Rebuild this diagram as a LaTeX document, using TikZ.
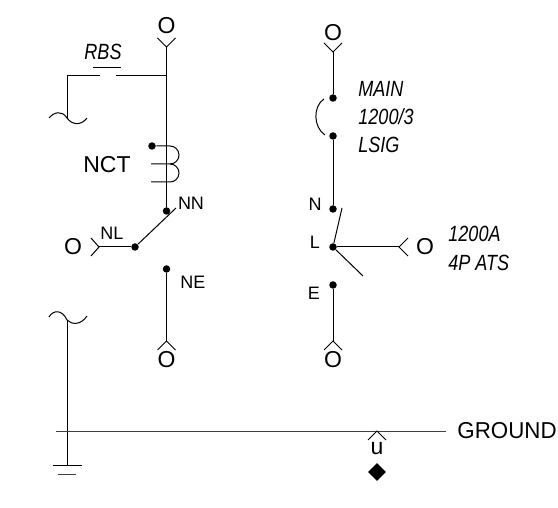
\documentclass[tikz,border=0pt]{standalone}
\usepackage{amsmath}
\usepackage{fontspec}
\setmainfont{Liberation Sans}
\usetikzlibrary{arrows,positioning,shapes.geometric}

\begin{document}
\begin{tikzpicture}[
x=1pt,y=-1pt,
line width=1pt,
big/.style={font=\fontsize{23}{25}\selectfont,inner sep=0pt},
small/.style={font=\fontsize{18}{20}\selectfont,inner sep=0pt},
note/.style={font=\fontsize{22}{24}\selectfont\itshape,xscale=0.82,inner sep=0pt,anchor=west},
dot/.style={circle,fill=black,inner sep=0pt,minimum size=7.5pt},
thinline/.style={line width=0.8pt,color=black!75}]
    \useasboundingbox (0,0) rectangle (558,508);

    % Left feeder
    \node[big] (otop) at (166.5,26) {O};
    \coordinate (ttop) at (166.5,47);
    \coordinate (rbsjoin) at (166.5,76);
    \node[dot] (nn) at (166.5,211) {};
    \draw (ttop) ++(-9,-9) -- (ttop) -- ++(9,-9);
    \draw (ttop) -- (nn);

    % RBS
    \node[note,anchor=center] (rbs) at (103,52) {RBS};
    \coordinate (rbsa) at (116,76);
    \coordinate (rbsb) at (100,76);
    \coordinate (rbsc) at (67,76);
    \coordinate (rbsd) at (67,118);
    \draw (rbsjoin) -- (rbsa);
    \draw (rbsb) -- (rbsc) -- (rbsd);
    \draw (93,68) -- (121,68);
    \draw (49,118) .. controls (54,112) and (62,110) .. (rbsd)
        .. controls (72,125) and (81,126) .. (87,118);

    % NCT
    \node[big] (nct) at (107,165) {NCT};
    \node[dot] (ctdot) at (152,146) {};
    \draw (ctdot) -- (170,146) arc (-90:90:9) -- (151,164);
    \draw (170,164) arc (-90:90:9) -- (151,182);

    % Left switch
    \node[big] (onl) at (73,247) {O};
    \node[small] (nl) at (112,233) {NL};
    \node[small] (nnlab) at (191,203) {NN};
    \node[dot] (nldot) at (135,247) {};
    \coordinate (tnl) at (99,247);
    \coordinate (bladea) at (176,208);
    \draw (tnl) ++(-8,-9) -- (tnl) -- ++(-8,9);
    \draw (tnl) -- (nldot);
    \draw (nldot) -- (bladea);

    \node[dot] (ne) at (166.5,269) {};
    \node[small] (nelab) at (193,282) {NE};
    \coordinate (tne) at (166.5,341);
    \node[big] (one) at (166.5,360) {O};
    \draw (ne) -- (tne);
    \draw (tne) ++(-9,9) -- (tne) -- ++(9,9);

    % Right feeder
    \node[big] (omain) at (333,33) {O};
    \coordinate (tmain) at (333,52);
    \node[dot] (bka) at (333,98) {};
    \node[dot] (bkb) at (333,136) {};
    \node[dot] (n) at (333,209) {};
    \draw (tmain) ++(-9,-9) -- (tmain) -- ++(9,-9);
    \draw (tmain) -- (bka);
    \draw (bkb) -- (n);
    \draw (324,99) .. controls (313,106) and (313,127) .. (325,135);
    \node[note] (main) at (358,89) {MAIN};
    \node[note] (rating) at (358,117) {1200/3};
    \node[note] (lsig) at (358,145) {LSIG};

    % ATS
    \node[small] (nlab) at (315,204) {N};
    \node[small] (llab) at (315,242) {L};
    \node[small] (elab) at (314,293) {E};
    \node[dot] (l) at (333,247) {};
    \node[dot] (e) at (333,285) {};
    \coordinate (bladeb) at (342,208);
    \coordinate (bladec) at (363,276);
    \coordinate (tats) at (399,247);
    \node[big] (oats) at (425,247) {O};
    \draw (l) -- (bladeb);
    \draw (l) -- (bladec);
    \draw (l) -- (tats);
    \draw (tats) ++(9,-9) -- (tats) -- ++(9,9);
    \node[note] (ats) at (448,234) {1200A};
    \node[note] (poles) at (448,263) {4P ATS};
    \coordinate (te) at (333,341);
    \node[big] (oe) at (333,360) {O};
    \draw (e) -- (te);
    \draw (te) ++(-9,9) -- (te) -- ++(9,9);

    % Ground
    \coordinate (neut) at (67,320);
    \coordinate (gnd) at (67,465);
    \draw (49,317) .. controls (53,310) and (62,309) .. (neut)
        .. controls (72,325) and (81,325) .. (87,316);
    \draw (neut) -- (gnd);
    \draw (53,465) -- (82,465);
    \draw[thinline] (58,474) -- (76,474);

    \coordinate (busa) at (56,431);
    \coordinate (busb) at (446,431);
    \node[big,xscale=0.97,anchor=west] (ground) at (457,431) {GROUND};
    \draw[thinline] (busa) -- (busb);
    \coordinate (tu) at (377,431);
    \draw (tu) ++(-9,9) -- (tu) -- ++(9,9);
    \node[big] (u) at (377,449) {u};
    \node[diamond,fill=black,inner sep=0pt,minimum size=18pt] (gnddot) at (377,472) {};

\end{tikzpicture}
\end{document}
